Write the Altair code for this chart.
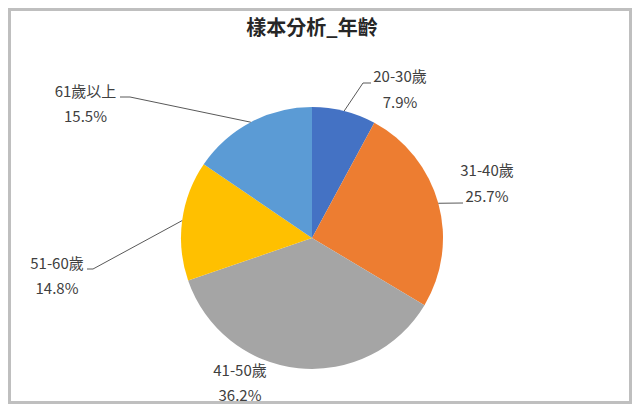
import altair as alt
import pandas as pd

# ---- data ----
title_text = "樣本分析_年齡"
categories = ["20-30歲", "31-40歲", "41-50歲", "51-60歲", "61歲以上"]
percents = [7.9, 25.7, 36.2, 14.8, 15.5]
pct_labels = ["7.9%", "25.7%", "36.2%", "14.8%", "15.5%"]

# ---- style / layout (not data) ----
colors = ["#4472C4", "#ED7D31", "#A5A5A5", "#FFC000", "#5B9BD5"]
W, H = 624, 396
CX, CY, R = 304, 230, 131
FONT = "Noto Sans CJK TC"
TEXT_COLOR = "#404040"
LINE_COLOR = "#595959"

# label anchor (x, name y, pct y) and leader-line elbow/end points, in pixels
label_layout = {
    "20-30歲": dict(lx=392, ny=69, py=95, ex=355, ey=75, tx=363, ty=75, line=True),
    "31-40歲": dict(lx=479, ny=163, py=189, ex=455, ey=195, tx=455, ty=195, line=True),
    "41-50歲": dict(lx=232, ny=363, py=388, ex=0, ey=0, tx=0, ty=0, line=False),
    "51-60歲": dict(lx=49, ny=256, py=281, ex=85, ey=261, tx=79, ty=261, line=True),
    "61歲以上": dict(lx=77.5, ny=84, py=109, ex=122, ey=89, tx=112, ty=89, line=True),
}

df = pd.DataFrame({
    "category": categories,
    "value": percents,
    "pct": pct_labels,
    "order": list(range(len(categories))),
})
lay = pd.DataFrame([dict(category=k, **v) for k, v in label_layout.items()])
df = df.merge(lay, on="category")

base = alt.Chart(df)

color_scale = alt.Scale(domain=categories, range=colors)

pie = base.mark_arc(radius=R, stroke=None).encode(
    theta=alt.Theta("value:Q", stack=True),
    color=alt.Color("category:N", scale=color_scale, legend=None),
    order=alt.Order("order:Q"),
    x=alt.value(CX),
    y=alt.value(CY),
)

# rim points at each slice's mid angle, computed from the values
rim = (
    base.transform_joinaggregate(total="sum(value)")
    .transform_window(cum="sum(value)", sort=[alt.SortField("order")], frame=[None, 0])
    .transform_calculate(
        mid=f"(datum.cum - datum.value/2) / datum.total * 2 * PI",
    )
    .transform_calculate(
        rx=f"{CX} + {R} * sin(datum.mid)",
        ry=f"{CY} - {R} * cos(datum.mid)",
    )
    .transform_filter("datum.line")
)

leader1 = rim.mark_rule(color=LINE_COLOR, strokeWidth=1).encode(
    x=alt.X("rx:Q", scale=None),
    y=alt.Y("ry:Q", scale=None),
    x2="ex:Q",
    y2="ey:Q",
)
leader2 = rim.mark_rule(color=LINE_COLOR, strokeWidth=1).encode(
    x=alt.X("ex:Q", scale=None),
    y=alt.Y("ey:Q", scale=None),
    x2="tx:Q",
    y2="ty:Q",
)

names = base.mark_text(font=FONT, fontSize=15, color=TEXT_COLOR, align="center", baseline="middle").encode(
    x=alt.X("lx:Q", scale=None),
    y=alt.Y("ny:Q", scale=None),
    text="category:N",
)
pcts = base.mark_text(font=FONT, fontSize=15, color=TEXT_COLOR, align="center", baseline="middle").encode(
    x=alt.X("lx:Q", scale=None),
    y=alt.Y("py:Q", scale=None),
    text="pct:N",
)

title = alt.Chart(pd.DataFrame({"t": [title_text]})).mark_text(
    font=FONT, fontSize=20, fontWeight="bold", color="#262626", align="center", baseline="middle"
).encode(x=alt.value(CX), y=alt.value(21), text="t:N")

chart = (
    alt.layer(pie, leader1, leader2, names, pcts, title)
    .properties(width=W, height=H, padding=0, autosize=alt.AutoSizeParams(type="none"))
    .configure_view(stroke="#BFBFBF", strokeWidth=6)
)

chart.save("out.html", embed_options={"renderer": "svg", "actions": False})
